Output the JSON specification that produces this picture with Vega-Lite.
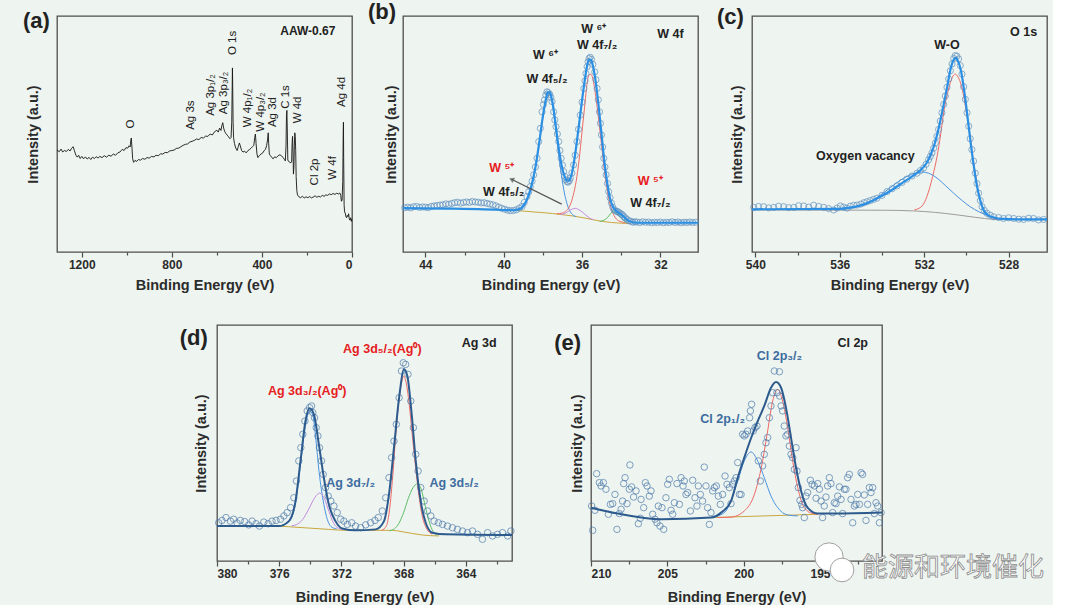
{
"$schema": "https://vega.github.io/schema/vega-lite/v6.json",
"background": "#eef4ef",
"padding": {"left": 22, "top": 0, "right": 0, "bottom": 0},
"config": {
  "font": "Liberation Sans",
  "view": {"stroke": "#4d4d4d", "strokeWidth": 1.3},
  "axis": {"grid": false, "domain": false, "labelFont": "Liberation Sans", "titleFont": "Liberation Sans", "labelFontWeight": "bold", "titleFontWeight": "bold", "labelColor": "#2b2b2b", "titleColor": "#2b2b2b", "labelFontSize": 12, "titleFontSize": 14.5, "tickColor": "#4d4d4d", "tickWidth": 1.2},
  "axisX": {"labelPadding": 2, "titlePadding": 8},
  "axisY": {"ticks": false, "labels": false},
  "text": {"font": "Liberation Sans"}
},
"datasets": {
"P": [{"p":"a","x":1401.5,"y":97.7,"t":"(a)"},{"p":"b","x":46.21,"y":101.7,"t":"(b)"},{"p":"c","x":541.18,"y":99.6,"t":"(c)"},{"p":"d","x":381.5,"y":94.6,"t":"(d)"},{"p":"e","x":211.53,"y":92.5,"t":"(e)"}],
"a": [{"x":1310,"y":43.2},{"x":1300,"y":42.5},{"x":1292,"y":43.6},{"x":1285,"y":42.4},{"x":1276,"y":43.0},{"x":1268,"y":42.6},{"x":1260,"y":43.5},{"x":1252,"y":42.8},{"x":1245,"y":44.0},{"x":1238,"y":44.6},{"x":1233,"y":43.0},{"x":1226,"y":41.0},{"x":1220,"y":40.2},{"x":1214,"y":41.0},{"x":1207,"y":39.6},{"x":1200,"y":40.5},{"x":1192,"y":39.5},{"x":1184,"y":40.3},{"x":1176,"y":39.4},{"x":1168,"y":40.1},{"x":1160,"y":39.2},{"x":1152,"y":40.2},{"x":1144,"y":39.6},{"x":1136,"y":40.4},{"x":1128,"y":39.8},{"x":1120,"y":40.5},{"x":1110,"y":40.0},{"x":1100,"y":40.8},{"x":1090,"y":40.2},{"x":1080,"y":41.0},{"x":1070,"y":40.6},{"x":1060,"y":41.5},{"x":1050,"y":41.0},{"x":1040,"y":42.0},{"x":1030,"y":42.4},{"x":1020,"y":43.5},{"x":1012,"y":43.0},{"x":1004,"y":44.2},{"x":996,"y":44.0},{"x":990,"y":45.0},{"x":985,"y":44.5},{"x":982,"y":47.5},{"x":980,"y":48.3},{"x":977,"y":44.0},{"x":974,"y":39.5},{"x":970,"y":38.0},{"x":964,"y":38.8},{"x":956,"y":38.4},{"x":948,"y":39.2},{"x":940,"y":38.9},{"x":930,"y":39.6},{"x":920,"y":39.3},{"x":910,"y":40.0},{"x":900,"y":39.8},{"x":890,"y":40.5},{"x":880,"y":40.3},{"x":870,"y":41.0},{"x":860,"y":40.8},{"x":850,"y":41.6},{"x":840,"y":41.5},{"x":830,"y":42.2},{"x":820,"y":42.1},{"x":810,"y":42.8},{"x":800,"y":43.0},{"x":790,"y":43.2},{"x":780,"y":43.9},{"x":770,"y":44.0},{"x":760,"y":44.6},{"x":750,"y":45.2},{"x":740,"y":45.6},{"x":730,"y":45.8},{"x":720,"y":46.6},{"x":710,"y":46.9},{"x":700,"y":47.3},{"x":690,"y":47.9},{"x":680,"y":47.6},{"x":670,"y":48.5},{"x":660,"y":48.3},{"x":650,"y":49.1},{"x":640,"y":49.0},{"x":630,"y":50.0},{"x":620,"y":49.6},{"x":610,"y":51.0},{"x":600,"y":51.6},{"x":594,"y":50.8},{"x":588,"y":52.5},{"x":582,"y":51.5},{"x":578,"y":53.5},{"x":574,"y":54.8},{"x":570,"y":52.5},{"x":565,"y":51.0},{"x":560,"y":50.2},{"x":554,"y":49.5},{"x":548,"y":48.8},{"x":542,"y":48.0},{"x":537,"y":48.5},{"x":534,"y":55.0},{"x":532,"y":70.0},{"x":531,"y":78.0},{"x":530,"y":72.0},{"x":528,"y":55.0},{"x":526,"y":48.5},{"x":522,"y":46.0},{"x":516,"y":44.0},{"x":510,"y":43.0},{"x":505,"y":44.6},{"x":500,"y":46.2},{"x":496,"y":45.0},{"x":490,"y":43.0},{"x":484,"y":42.3},{"x":478,"y":42.8},{"x":470,"y":42.0},{"x":462,"y":43.0},{"x":455,"y":43.4},{"x":448,"y":44.0},{"x":442,"y":44.6},{"x":436,"y":45.2},{"x":432,"y":48.5},{"x":429,"y":50.0},{"x":426,"y":46.0},{"x":422,"y":41.5},{"x":418,"y":40.0},{"x":412,"y":40.8},{"x":404,"y":41.5},{"x":396,"y":42.0},{"x":390,"y":43.0},{"x":384,"y":43.5},{"x":379,"y":45.2},{"x":375,"y":47.5},{"x":372,"y":50.5},{"x":370,"y":46.0},{"x":367,"y":41.5},{"x":362,"y":40.8},{"x":356,"y":40.0},{"x":350,"y":39.5},{"x":344,"y":40.3},{"x":336,"y":40.0},{"x":328,"y":40.8},{"x":320,"y":41.2},{"x":312,"y":40.6},{"x":305,"y":40.0},{"x":300,"y":39.2},{"x":296,"y":38.6},{"x":293,"y":45.0},{"x":291,"y":58.0},{"x":289,"y":60.0},{"x":287,"y":50.0},{"x":285,"y":39.0},{"x":281,"y":38.3},{"x":276,"y":38.0},{"x":271,"y":37.8},{"x":268,"y":38.5},{"x":266,"y":46.0},{"x":264,"y":49.0},{"x":262,"y":42.0},{"x":260,"y":33.0},{"x":258,"y":36.0},{"x":256,"y":45.0},{"x":254,"y":50.5},{"x":252,"y":49.0},{"x":250,"y":43.0},{"x":248,"y":32.0},{"x":245,"y":26.0},{"x":242,"y":24.2},{"x":236,"y":23.4},{"x":228,"y":23.0},{"x":220,"y":23.6},{"x":212,"y":22.9},{"x":204,"y":23.4},{"x":196,"y":23.0},{"x":188,"y":23.5},{"x":180,"y":22.9},{"x":172,"y":23.3},{"x":164,"y":23.8},{"x":156,"y":23.2},{"x":148,"y":23.6},{"x":140,"y":23.3},{"x":132,"y":24.0},{"x":124,"y":23.6},{"x":116,"y":24.2},{"x":108,"y":24.0},{"x":100,"y":24.6},{"x":92,"y":24.3},{"x":84,"y":24.8},{"x":76,"y":24.4},{"x":68,"y":24.9},{"x":60,"y":24.6},{"x":54,"y":25.0},{"x":50,"y":24.0},{"x":47,"y":21.5},{"x":44,"y":22.0},{"x":41,"y":30.0},{"x":39,"y":50.0},{"x":38,"y":55.0},{"x":37,"y":40.0},{"x":35,"y":20.0},{"x":33,"y":17.0},{"x":30,"y":16.5},{"x":27,"y":15.0},{"x":24,"y":14.5},{"x":21,"y":15.5},{"x":18,"y":15.0},{"x":15,"y":16.2},{"x":12,"y":14.0},{"x":9,"y":13.5},{"x":6,"y":14.5},{"x":3,"y":13.0},{"x":1,"y":14.0}],
"aL": [{"x":982,"y":54.2,"t":"O"},{"x":716,"y":58.0,"t":"Ag 3s"},{"x":627,"y":66.5,"t":"Ag 3p₁/₂"},{"x":569,"y":67.4,"t":"Ag 3p₃/₂"},{"x":529,"y":88.6,"t":"O 1s"},{"x":462,"y":61.0,"t":"W 4p₁/₂"},{"x":404,"y":59.3,"t":"W 4p₃/₂"},{"x":351,"y":59.3,"t":"Ag 3d"},{"x":293,"y":65.7,"t":"C 1s"},{"x":240,"y":60.2,"t":"W 4d"},{"x":164,"y":33.9,"t":"Cl 2p"},{"x":84,"y":35.6,"t":"W 4f"},{"x":44,"y":67.8,"t":"Ag 4d"}],
"aT": [{"x":196,"y":93.6,"t":"AAW-0.67"}],
"bP": [{"x":45.05,"y":18.8},{"x":44.9,"y":19.0},{"x":44.75,"y":18.7},{"x":44.6,"y":19.2},{"x":44.45,"y":19.3},{"x":44.3,"y":18.9},{"x":44.15,"y":19.1},{"x":44.0,"y":19.0},{"x":43.85,"y":18.8},{"x":43.7,"y":19.3},{"x":43.55,"y":19.5},{"x":43.4,"y":19.7},{"x":43.25,"y":19.9},{"x":43.1,"y":20.0},{"x":42.95,"y":20.4},{"x":42.8,"y":20.2},{"x":42.65,"y":20.6},{"x":42.5,"y":20.9},{"x":42.35,"y":21.1},{"x":42.2,"y":20.7},{"x":42.05,"y":21.0},{"x":41.9,"y":21.2},{"x":41.75,"y":21.0},{"x":41.6,"y":21.4},{"x":41.45,"y":21.2},{"x":41.3,"y":21.1},{"x":41.15,"y":20.8},{"x":41.0,"y":20.9},{"x":40.85,"y":20.6},{"x":40.7,"y":20.3},{"x":40.55,"y":20.0},{"x":40.4,"y":19.6},{"x":40.25,"y":19.0},{"x":40.1,"y":18.5},{"x":39.95,"y":18.1},{"x":39.8,"y":17.7},{"x":39.65,"y":17.5},{"x":39.5,"y":17.6},{"x":39.35,"y":17.9},{"x":39.2,"y":18.6},{"x":39.06,"y":19.3},{"x":38.95,"y":21.0},{"x":38.81,"y":23.5},{"x":38.72,"y":25.5},{"x":38.64,"y":27.7},{"x":38.55,"y":30.0},{"x":38.47,"y":32.7},{"x":38.38,"y":36.0},{"x":38.3,"y":39.7},{"x":38.21,"y":46.8},{"x":38.13,"y":52.4},{"x":38.04,"y":59.4},{"x":37.97,"y":62.5},{"x":37.92,"y":64.4},{"x":37.85,"y":66.5},{"x":37.79,"y":67.9},{"x":37.72,"y":67.5},{"x":37.65,"y":66.8},{"x":37.59,"y":65.5},{"x":37.53,"y":63.7},{"x":37.45,"y":59.4},{"x":37.39,"y":56.0},{"x":37.33,"y":53.1},{"x":37.26,"y":50.0},{"x":37.19,"y":46.8},{"x":37.13,"y":43.0},{"x":37.07,"y":39.7},{"x":37.0,"y":36.8},{"x":36.94,"y":34.1},{"x":36.88,"y":32.0},{"x":36.82,"y":30.6},{"x":36.76,"y":29.8},{"x":36.71,"y":29.6},{"x":36.65,"y":30.2},{"x":36.6,"y":31.3},{"x":36.52,"y":33.5},{"x":36.43,"y":36.9},{"x":36.35,"y":41.0},{"x":36.26,"y":46.8},{"x":36.18,"y":52.0},{"x":36.09,"y":58.0},{"x":36.0,"y":63.5},{"x":35.91,"y":69.3},{"x":35.85,"y":72.5},{"x":35.8,"y":75.6},{"x":35.74,"y":78.5},{"x":35.69,"y":80.6},{"x":35.64,"y":82.0},{"x":35.58,"y":82.5},{"x":35.52,"y":81.6},{"x":35.45,"y":79.5},{"x":35.35,"y":76.3},{"x":35.29,"y":73.0},{"x":35.23,"y":69.3},{"x":35.17,"y":64.5},{"x":35.11,"y":59.4},{"x":35.06,"y":54.5},{"x":35.01,"y":49.6},{"x":34.95,"y":44.5},{"x":34.89,"y":39.7},{"x":34.83,"y":36.0},{"x":34.77,"y":32.7},{"x":34.7,"y":29.0},{"x":34.64,"y":25.6},{"x":34.57,"y":23.0},{"x":34.5,"y":20.7},{"x":34.43,"y":19.0},{"x":34.37,"y":17.9},{"x":34.29,"y":17.4},{"x":34.21,"y":17.2},{"x":34.14,"y":16.9},{"x":34.08,"y":16.5},{"x":34.0,"y":16.1},{"x":33.94,"y":15.8},{"x":33.86,"y":15.0},{"x":33.79,"y":14.4},{"x":33.7,"y":13.8},{"x":33.6,"y":13.2},{"x":33.5,"y":13.0},{"x":33.4,"y":12.6},{"x":33.3,"y":12.8},{"x":33.2,"y":12.7},{"x":33.05,"y":12.5},{"x":32.9,"y":12.8},{"x":32.75,"y":12.6},{"x":32.6,"y":12.7},{"x":32.45,"y":12.4},{"x":32.3,"y":12.6},{"x":32.15,"y":12.5},{"x":32.0,"y":12.7},{"x":31.85,"y":12.4},{"x":31.7,"y":12.6},{"x":31.55,"y":12.5},{"x":31.4,"y":12.8},{"x":31.25,"y":12.5},{"x":31.1,"y":12.7},{"x":30.95,"y":12.4},{"x":30.8,"y":12.6},{"x":30.65,"y":12.5},{"x":30.5,"y":12.7},{"x":30.35,"y":12.5},{"x":30.2,"y":12.6}],
"bF": [{"x":45.14,"y":18.6},{"x":43.0,"y":18.4},{"x":41.0,"y":18.1},{"x":40.0,"y":17.8},{"x":39.5,"y":17.7},{"x":39.2,"y":18.2},{"x":39.0,"y":19.5},{"x":38.8,"y":22.5},{"x":38.6,"y":27.5},{"x":38.4,"y":35.0},{"x":38.2,"y":45.5},{"x":38.0,"y":57.5},{"x":37.85,"y":64.5},{"x":37.75,"y":67.8},{"x":37.65,"y":67.6},{"x":37.5,"y":63.0},{"x":37.35,"y":54.0},{"x":37.2,"y":44.5},{"x":37.05,"y":37.0},{"x":36.9,"y":32.3},{"x":36.75,"y":30.2},{"x":36.65,"y":30.5},{"x":36.5,"y":34.0},{"x":36.35,"y":41.5},{"x":36.2,"y":51.0},{"x":36.05,"y":61.0},{"x":35.9,"y":70.5},{"x":35.75,"y":78.5},{"x":35.65,"y":81.5},{"x":35.55,"y":81.5},{"x":35.45,"y":79.0},{"x":35.3,"y":72.0},{"x":35.15,"y":61.5},{"x":35.0,"y":49.5},{"x":34.85,"y":37.5},{"x":34.7,"y":28.5},{"x":34.55,"y":22.0},{"x":34.4,"y":18.8},{"x":34.25,"y":17.4},{"x":34.1,"y":16.5},{"x":33.9,"y":15.2},{"x":33.7,"y":13.6},{"x":33.5,"y":12.8},{"x":33.2,"y":12.4},{"x":32.0,"y":12.4},{"x":30.08,"y":12.4}],
"bC": [{"s":"bg","x":39.4,"y":17.6},{"s":"bg","x":38.5,"y":17.0},{"s":"bg","x":37.5,"y":16.3},{"s":"bg","x":37.0,"y":15.8},{"s":"bg","x":36.5,"y":15.3},{"s":"bg","x":36.0,"y":14.6},{"s":"bg","x":35.5,"y":13.8},{"s":"bg","x":35.0,"y":13.0},{"s":"bg","x":34.5,"y":12.5},{"s":"bg","x":34.0,"y":12.2},{"s":"bg","x":33.5,"y":12.1},
{"s":"blue","x":39.4,"y":17.6},{"s":"blue","x":39.0,"y":19.0},{"s":"blue","x":38.8,"y":22.0},{"s":"blue","x":38.6,"y":27.0},{"s":"blue","x":38.4,"y":34.5},{"s":"blue","x":38.2,"y":45.0},{"s":"blue","x":38.0,"y":57.0},{"s":"blue","x":37.85,"y":64.0},{"s":"blue","x":37.75,"y":67.2},{"s":"blue","x":37.65,"y":67.0},{"s":"blue","x":37.5,"y":62.0},{"s":"blue","x":37.35,"y":52.5},{"s":"blue","x":37.2,"y":42.0},{"s":"blue","x":37.05,"y":32.5},{"s":"blue","x":36.9,"y":25.0},{"s":"blue","x":36.75,"y":20.0},{"s":"blue","x":36.6,"y":17.0},{"s":"blue","x":36.45,"y":15.6},{"s":"blue","x":36.3,"y":15.0},
{"s":"red","x":37.3,"y":16.2},{"s":"red","x":37.0,"y":16.5},{"s":"red","x":36.8,"y":17.5},{"s":"red","x":36.6,"y":20.0},{"s":"red","x":36.45,"y":24.0},{"s":"red","x":36.3,"y":30.0},{"s":"red","x":36.15,"y":39.0},{"s":"red","x":36.0,"y":51.0},{"s":"red","x":35.85,"y":63.0},{"s":"red","x":35.75,"y":71.0},{"s":"red","x":35.65,"y":75.0},{"s":"red","x":35.55,"y":75.3},{"s":"red","x":35.45,"y":73.5},{"s":"red","x":35.3,"y":66.0},{"s":"red","x":35.15,"y":56.0},{"s":"red","x":35.0,"y":45.0},{"s":"red","x":34.85,"y":34.0},{"s":"red","x":34.7,"y":25.5},{"s":"red","x":34.55,"y":19.5},{"s":"red","x":34.4,"y":16.0},{"s":"red","x":34.25,"y":14.0},{"s":"red","x":34.0,"y":12.8},{"s":"red","x":33.8,"y":12.3},
{"s":"purple","x":37.1,"y":15.9},{"s":"purple","x":36.9,"y":16.3},{"s":"purple","x":36.7,"y":17.2},{"s":"purple","x":36.5,"y":18.2},{"s":"purple","x":36.35,"y":18.5},{"s":"purple","x":36.2,"y":18.1},{"s":"purple","x":36.0,"y":17.0},{"s":"purple","x":35.8,"y":15.6},{"s":"purple","x":35.6,"y":14.3},{"s":"purple","x":35.4,"y":13.6},
{"s":"green","x":35.1,"y":13.0},{"s":"green","x":34.9,"y":13.4},{"s":"green","x":34.7,"y":14.6},{"s":"green","x":34.55,"y":16.2},{"s":"green","x":34.4,"y":17.3},{"s":"green","x":34.25,"y":16.8},{"s":"green","x":34.1,"y":15.2},{"s":"green","x":33.9,"y":13.4},{"s":"green","x":33.7,"y":12.5}],
"bT": [{"x":37.87,"y":83.4,"t":"W ⁶⁺","k":"black"},{"x":37.79,"y":73.5,"t":"W 4f₅/₂","k":"black"},{"x":35.4,"y":94.6,"t":"W ⁶⁺","k":"black"},{"x":35.23,"y":87.6,"t":"W 4f₇/₂","k":"black"},{"x":31.49,"y":92.3,"t":"W 4f","k":"black"},{"x":40.09,"y":35.5,"t":"W ⁵⁺","k":"lred"},{"x":40.0,"y":25.6,"t":"W 4f₅/₂","k":"black"},{"x":32.51,"y":29.9,"t":"W ⁵⁺","k":"lred"},{"x":32.51,"y":20.7,"t":"W 4f₇/₂","k":"black"}],
"bA": [{"x":37.04,"y":20.3,"x2":39.6,"y2":30.8}],
"bH": [{"x":39.6,"y":30.8}],
"cP": [{"x":540.08,"y":18.9},{"x":539.85,"y":19.3},{"x":539.61,"y":19.2},{"x":539.37,"y":18.7},{"x":539.13,"y":18.9},{"x":538.9,"y":19.4},{"x":538.66,"y":19.2},{"x":538.42,"y":18.8},{"x":538.18,"y":18.9},{"x":537.95,"y":19.6},{"x":537.71,"y":19.5},{"x":537.47,"y":19.0},{"x":537.24,"y":19.8},{"x":537.0,"y":19.3},{"x":536.76,"y":18.9},{"x":536.53,"y":18.4},{"x":536.29,"y":17.8},{"x":536.13,"y":18.6},{"x":535.97,"y":19.5},{"x":535.82,"y":19.0},{"x":535.66,"y":18.6},{"x":535.5,"y":19.4},{"x":535.34,"y":19.8},{"x":535.18,"y":19.9},{"x":535.0,"y":20.3},{"x":534.85,"y":20.9},{"x":534.71,"y":21.3},{"x":534.55,"y":21.8},{"x":534.4,"y":22.3},{"x":534.24,"y":22.8},{"x":534.0,"y":24.0},{"x":533.76,"y":25.6},{"x":533.52,"y":26.8},{"x":533.29,"y":28.0},{"x":533.05,"y":29.5},{"x":532.82,"y":30.9},{"x":532.58,"y":32.2},{"x":532.34,"y":33.4},{"x":532.18,"y":34.5},{"x":532.03,"y":35.6},{"x":531.91,"y":37.2},{"x":531.79,"y":39.1},{"x":531.71,"y":40.5},{"x":531.63,"y":42.0},{"x":531.55,"y":44.0},{"x":531.47,"y":46.2},{"x":531.4,"y":49.0},{"x":531.32,"y":51.9},{"x":531.24,"y":55.5},{"x":531.16,"y":59.0},{"x":531.08,"y":62.5},{"x":531.0,"y":66.1},{"x":530.92,"y":69.8},{"x":530.84,"y":73.3},{"x":530.76,"y":76.8},{"x":530.68,"y":79.7},{"x":530.6,"y":82.0},{"x":530.53,"y":83.2},{"x":530.45,"y":83.0},{"x":530.37,"y":81.8},{"x":530.29,"y":79.0},{"x":530.21,"y":75.4},{"x":530.13,"y":70.0},{"x":530.05,"y":64.7},{"x":529.97,"y":59.0},{"x":529.89,"y":53.3},{"x":529.82,"y":48.0},{"x":529.74,"y":43.4},{"x":529.66,"y":38.5},{"x":529.58,"y":33.4},{"x":529.5,"y":29.0},{"x":529.42,"y":24.9},{"x":529.34,"y":21.8},{"x":529.26,"y":19.2},{"x":529.15,"y":17.6},{"x":529.03,"y":16.4},{"x":528.87,"y":15.6},{"x":528.71,"y":14.9},{"x":528.47,"y":14.6},{"x":528.24,"y":14.2},{"x":528.0,"y":14.5},{"x":527.76,"y":14.2},{"x":527.52,"y":13.9},{"x":527.29,"y":13.8},{"x":527.05,"y":14.3},{"x":526.82,"y":14.2},{"x":526.58,"y":13.6},{"x":526.34,"y":13.8}],
"cF": [{"x":540.16,"y":18.1},{"x":536.0,"y":18.3},{"x":535.5,"y":18.8},{"x":535.0,"y":19.8},{"x":534.5,"y":21.5},{"x":534.0,"y":23.8},{"x":533.5,"y":26.5},{"x":533.0,"y":29.5},{"x":532.5,"y":32.5},{"x":532.2,"y":34.5},{"x":531.9,"y":37.5},{"x":531.7,"y":41.0},{"x":531.5,"y":46.0},{"x":531.3,"y":53.0},{"x":531.1,"y":61.5},{"x":530.9,"y":70.5},{"x":530.75,"y":77.5},{"x":530.6,"y":81.5},{"x":530.5,"y":82.3},{"x":530.4,"y":81.0},{"x":530.25,"y":76.5},{"x":530.1,"y":68.0},{"x":529.95,"y":57.5},{"x":529.8,"y":46.5},{"x":529.65,"y":36.5},{"x":529.5,"y":28.0},{"x":529.35,"y":22.0},{"x":529.2,"y":18.0},{"x":529.0,"y":15.8},{"x":528.7,"y":14.6},{"x":528.3,"y":14.0},{"x":527.5,"y":13.8},{"x":526.18,"y":13.8}],
"cC": [{"s":"gray","x":540.16,"y":17.8},{"s":"gray","x":534.0,"y":17.7},{"s":"gray","x":532.5,"y":17.4},{"s":"gray","x":531.5,"y":16.8},{"s":"gray","x":530.5,"y":15.8},{"s":"gray","x":529.5,"y":14.6},{"s":"gray","x":528.8,"y":13.9},{"s":"gray","x":528.3,"y":13.7},{"s":"gray","x":526.18,"y":13.7},
{"s":"red","x":532.47,"y":17.8},{"s":"red","x":532.1,"y":19.5},{"s":"red","x":531.87,"y":23.5},{"s":"red","x":531.6,"y":32.0},{"s":"red","x":531.39,"y":40.5},{"s":"red","x":531.2,"y":51.0},{"s":"red","x":531.08,"y":59.0},{"s":"red","x":530.9,"y":67.0},{"s":"red","x":530.76,"y":71.8},{"s":"red","x":530.6,"y":75.0},{"s":"red","x":530.53,"y":75.4},{"s":"red","x":530.4,"y":74.2},{"s":"red","x":530.29,"y":72.0},{"s":"red","x":530.15,"y":67.0},{"s":"red","x":530.05,"y":62.0},{"s":"red","x":529.9,"y":53.5},{"s":"red","x":529.82,"y":48.5},{"s":"red","x":529.7,"y":40.5},{"s":"red","x":529.58,"y":33.5},{"s":"red","x":529.45,"y":26.5},{"s":"red","x":529.34,"y":22.0},{"s":"red","x":529.2,"y":18.0},{"s":"red","x":529.03,"y":15.8},{"s":"red","x":528.8,"y":14.6},{"s":"red","x":528.55,"y":14.0},
{"s":"blue","x":535.82,"y":18.5},{"s":"blue","x":535.0,"y":19.5},{"s":"blue","x":534.55,"y":21.3},{"s":"blue","x":534.0,"y":24.6},{"s":"blue","x":533.6,"y":27.3},{"s":"blue","x":533.2,"y":30.0},{"s":"blue","x":532.82,"y":32.0},{"s":"blue","x":532.4,"y":33.5},{"s":"blue","x":532.1,"y":33.9},{"s":"blue","x":531.8,"y":33.4},{"s":"blue","x":531.39,"y":31.3},{"s":"blue","x":531.0,"y":28.2},{"s":"blue","x":530.6,"y":24.9},{"s":"blue","x":530.2,"y":21.8},{"s":"blue","x":529.82,"y":19.2},{"s":"blue","x":529.4,"y":17.0},{"s":"blue","x":529.03,"y":15.6},{"s":"blue","x":528.7,"y":14.6},{"s":"blue","x":528.4,"y":14.2}],
"cT": [{"x":530.92,"y":87.9,"t":"W-O","k":"black"},{"x":534.79,"y":40.8,"t":"Oxygen vacancy","k":"black"},{"x":527.29,"y":93.2,"t":"O 1s","k":"black"}],
"dP": [{"x":379.89,"y":16.2},{"x":379.68,"y":17.2},{"x":379.42,"y":18.4},{"x":379.14,"y":16.9},{"x":378.93,"y":17.7},{"x":378.71,"y":16.1},{"x":378.5,"y":17.2},{"x":378.22,"y":16.7},{"x":377.96,"y":15.3},{"x":377.74,"y":16.9},{"x":377.49,"y":15.8},{"x":377.27,"y":14.8},{"x":376.99,"y":16.5},{"x":376.71,"y":15.8},{"x":376.46,"y":16.9},{"x":376.2,"y":17.2},{"x":375.92,"y":17.7},{"x":375.7,"y":19.1},{"x":375.49,"y":20.5},{"x":375.27,"y":22.6},{"x":375.06,"y":26.8},{"x":374.89,"y":33.9},{"x":374.74,"y":42.4},{"x":374.61,"y":48.0},{"x":374.48,"y":53.7},{"x":374.35,"y":59.3},{"x":374.2,"y":63.6},{"x":374.05,"y":65.0},{"x":373.92,"y":65.7},{"x":373.84,"y":62.9},{"x":373.73,"y":60.7},{"x":373.62,"y":56.5},{"x":373.51,"y":53.0},{"x":373.41,"y":48.0},{"x":373.28,"y":42.4},{"x":373.17,"y":36.7},{"x":373.02,"y":31.1},{"x":372.85,"y":27.5},{"x":372.68,"y":25.4},{"x":372.48,"y":23.3},{"x":372.27,"y":20.5},{"x":372.05,"y":17.7},{"x":371.84,"y":16.9},{"x":371.62,"y":15.5},{"x":371.34,"y":16.2},{"x":371.09,"y":14.8},{"x":370.76,"y":14.1},{"x":370.44,"y":15.3},{"x":370.12,"y":16.2},{"x":369.84,"y":17.2},{"x":369.63,"y":18.4},{"x":369.37,"y":21.2},{"x":369.15,"y":26.8},{"x":368.94,"y":35.3},{"x":368.77,"y":43.8},{"x":368.62,"y":50.8},{"x":368.47,"y":57.9},{"x":368.29,"y":69.2},{"x":368.14,"y":80.5},{"x":368.02,"y":84.0},{"x":367.87,"y":83.3},{"x":367.72,"y":79.1},{"x":367.54,"y":67.8},{"x":367.37,"y":56.5},{"x":367.22,"y":45.2},{"x":367.07,"y":38.1},{"x":366.9,"y":31.1},{"x":366.68,"y":25.4},{"x":366.47,"y":21.2},{"x":366.25,"y":19.1},{"x":366.04,"y":16.9},{"x":365.76,"y":16.2},{"x":365.5,"y":15.5},{"x":365.18,"y":14.8},{"x":364.86,"y":14.1},{"x":364.54,"y":13.4},{"x":364.21,"y":12.7},{"x":363.89,"y":12.0},{"x":363.57,"y":12.7},{"x":363.25,"y":11.3},{"x":362.93,"y":9.2},{"x":362.6,"y":12.0},{"x":362.28,"y":10.6},{"x":361.96,"y":11.3},{"x":361.64,"y":12.0},{"x":361.31,"y":10.6},{"x":361.1,"y":12.7}],
"dF": [{"x":380.0,"y":14.8},{"x":376.03,"y":14.8},{"x":375.38,"y":16.9},{"x":374.95,"y":25.4},{"x":374.63,"y":42.4},{"x":374.31,"y":59.3},{"x":374.05,"y":64.7},{"x":373.77,"y":62.1},{"x":373.45,"y":49.4},{"x":373.13,"y":35.3},{"x":372.81,"y":24.0},{"x":372.38,"y":16.9},{"x":371.95,"y":13.8},{"x":371.09,"y":13.0},{"x":369.8,"y":13.4},{"x":369.26,"y":16.9},{"x":368.94,"y":28.2},{"x":368.62,"y":48.0},{"x":368.29,"y":69.2},{"x":367.97,"y":81.2},{"x":367.76,"y":78.4},{"x":367.48,"y":62.1},{"x":367.22,"y":42.4},{"x":366.9,"y":25.4},{"x":366.58,"y":16.2},{"x":366.15,"y":12.0},{"x":365.29,"y":11.3},{"x":361.03,"y":11.0}],
"dC": [{"s":"bg","x":376.03,"y":14.8},{"s":"bg","x":372.81,"y":13.4},{"s":"bg","x":371.73,"y":13.0},{"s":"bg","x":368.72,"y":13.0},{"s":"bg","x":368.08,"y":12.4},{"s":"bg","x":366.79,"y":11.0},{"s":"bg","x":365.72,"y":10.6},
{"s":"blue","x":376.0,"y":14.8},{"s":"blue","x":375.4,"y":16.5},{"s":"blue","x":374.95,"y":24.5},{"s":"blue","x":374.63,"y":41.0},{"s":"blue","x":374.31,"y":57.5},{"s":"blue","x":374.05,"y":63.5},{"s":"blue","x":373.85,"y":62.0},{"s":"blue","x":373.65,"y":52.0},{"s":"blue","x":373.44,"y":38.0},{"s":"blue","x":373.13,"y":24.0},{"s":"blue","x":372.9,"y":17.5},{"s":"blue","x":372.67,"y":14.6},{"s":"blue","x":372.3,"y":13.6},
{"s":"purple","x":375.2,"y":14.9},{"s":"purple","x":374.9,"y":15.4},{"s":"purple","x":374.5,"y":17.5},{"s":"purple","x":374.1,"y":22.0},{"s":"purple","x":373.7,"y":27.0},{"s":"purple","x":373.4,"y":28.8},{"s":"purple","x":373.1,"y":26.5},{"s":"purple","x":372.8,"y":21.0},{"s":"purple","x":372.5,"y":16.0},{"s":"purple","x":372.2,"y":13.9},{"s":"purple","x":371.9,"y":13.4},
{"s":"red","x":369.4,"y":13.0},{"s":"red","x":369.1,"y":15.0},{"s":"red","x":368.9,"y":22.0},{"s":"red","x":368.7,"y":36.0},{"s":"red","x":368.5,"y":54.0},{"s":"red","x":368.3,"y":68.0},{"s":"red","x":368.1,"y":76.5},{"s":"red","x":368.0,"y":78.4},{"s":"red","x":367.85,"y":76.0},{"s":"red","x":367.6,"y":64.0},{"s":"red","x":367.4,"y":50.5},{"s":"red","x":367.2,"y":38.1},{"s":"red","x":367.0,"y":27.0},{"s":"red","x":366.8,"y":19.0},{"s":"red","x":366.5,"y":13.5},{"s":"red","x":366.17,"y":11.4},
{"s":"green","x":368.9,"y":12.8},{"s":"green","x":368.6,"y":13.6},{"s":"green","x":368.3,"y":16.0},{"s":"green","x":368.0,"y":20.5},{"s":"green","x":367.7,"y":26.5},{"s":"green","x":367.4,"y":31.0},{"s":"green","x":367.1,"y":32.8},{"s":"green","x":366.85,"y":30.0},{"s":"green","x":366.6,"y":23.0},{"s":"green","x":366.35,"y":16.5},{"s":"green","x":366.1,"y":12.5},{"s":"green","x":365.85,"y":11.0}],
"dT": [{"x":369.37,"y":89.7,"t":"Ag 3d₅/₂(Ag⁰)","k":"lred"},{"x":374.2,"y":72.0,"t":"Ag 3d₃/₂(Ag⁰)","k":"lred"},{"x":371.41,"y":33.2,"t":"Ag 3d₇/₂","k":"steel"},{"x":364.75,"y":33.2,"t":"Ag 3d₅/₂","k":"steel"},{"x":363.14,"y":92.5,"t":"Ag 3d","k":"black"}],
"eP": [{"x":209.96,"y":23.3},{"x":209.89,"y":13.0},{"x":209.74,"y":21.5},{"x":209.63,"y":37.0},{"x":209.45,"y":33.2},{"x":209.34,"y":31.8},{"x":209.19,"y":33.2},{"x":209.02,"y":30.4},{"x":208.86,"y":19.8},{"x":208.73,"y":24.0},{"x":208.58,"y":24.3},{"x":208.43,"y":28.2},{"x":208.3,"y":13.4},{"x":208.14,"y":20.1},{"x":208.03,"y":21.9},{"x":207.93,"y":25.4},{"x":207.86,"y":32.8},{"x":207.77,"y":35.3},{"x":207.64,"y":24.3},{"x":207.49,"y":30.4},{"x":207.45,"y":40.7},{"x":207.34,"y":31.4},{"x":207.21,"y":27.1},{"x":207.05,"y":29.7},{"x":206.9,"y":15.8},{"x":206.77,"y":18.1},{"x":206.72,"y":26.1},{"x":206.55,"y":22.6},{"x":206.44,"y":33.2},{"x":206.33,"y":31.8},{"x":206.18,"y":27.5},{"x":206.07,"y":29.7},{"x":205.96,"y":19.8},{"x":205.81,"y":17.7},{"x":205.68,"y":16.2},{"x":205.59,"y":23.3},{"x":205.48,"y":14.8},{"x":205.35,"y":22.6},{"x":205.24,"y":13.4},{"x":205.09,"y":26.8},{"x":204.98,"y":32.5},{"x":204.87,"y":34.6},{"x":204.76,"y":21.5},{"x":204.65,"y":19.8},{"x":204.54,"y":24.7},{"x":204.37,"y":32.8},{"x":204.21,"y":24.0},{"x":204.1,"y":35.3},{"x":203.97,"y":31.8},{"x":203.89,"y":33.9},{"x":203.78,"y":28.2},{"x":203.67,"y":29.0},{"x":203.49,"y":21.2},{"x":203.34,"y":34.2},{"x":203.19,"y":26.8},{"x":203.06,"y":23.3},{"x":202.97,"y":31.8},{"x":202.84,"y":28.2},{"x":202.69,"y":25.4},{"x":202.58,"y":39.8},{"x":202.47,"y":31.8},{"x":202.36,"y":22.6},{"x":202.25,"y":15.5},{"x":202.14,"y":20.5},{"x":202.03,"y":29.7},{"x":201.92,"y":31.1},{"x":201.79,"y":31.8},{"x":201.66,"y":27.5},{"x":201.53,"y":24.0},{"x":201.38,"y":28.2},{"x":201.22,"y":36.0},{"x":201.09,"y":32.5},{"x":200.94,"y":31.1},{"x":200.83,"y":24.3},{"x":200.72,"y":32.5},{"x":200.61,"y":33.9},{"x":200.5,"y":35.3},{"x":200.39,"y":41.7},{"x":200.28,"y":28.2},{"x":200.17,"y":28.2},{"x":200.07,"y":53.7},{"x":199.96,"y":53.0},{"x":199.85,"y":53.7},{"x":199.74,"y":55.1},{"x":199.61,"y":60.7},{"x":199.56,"y":63.6},{"x":199.48,"y":66.4},{"x":199.37,"y":55.1},{"x":199.26,"y":56.5},{"x":199.13,"y":57.2},{"x":199.04,"y":42.4},{"x":198.91,"y":33.9},{"x":198.76,"y":40.3},{"x":198.65,"y":45.2},{"x":198.54,"y":50.1},{"x":198.43,"y":52.3},{"x":198.32,"y":60.7},{"x":198.21,"y":65.7},{"x":198.1,"y":71.3},{"x":197.99,"y":80.5},{"x":197.82,"y":71.3},{"x":197.66,"y":80.2},{"x":197.64,"y":69.9},{"x":197.55,"y":65.7},{"x":197.45,"y":63.6},{"x":197.34,"y":57.2},{"x":197.23,"y":53.0},{"x":197.12,"y":53.7},{"x":197.01,"y":48.7},{"x":196.9,"y":45.2},{"x":196.79,"y":43.8},{"x":196.68,"y":38.8},{"x":196.57,"y":48.0},{"x":196.51,"y":38.1},{"x":196.42,"y":31.1},{"x":196.31,"y":25.7},{"x":196.2,"y":24.0},{"x":196.14,"y":22.6},{"x":196.03,"y":18.4},{"x":195.92,"y":27.5},{"x":195.81,"y":29.0},{"x":195.63,"y":34.2},{"x":195.52,"y":32.5},{"x":195.37,"y":31.8},{"x":195.26,"y":26.6},{"x":195.15,"y":32.8},{"x":195.04,"y":30.4},{"x":194.93,"y":25.4},{"x":194.83,"y":18.4},{"x":194.72,"y":23.3},{"x":194.61,"y":27.1},{"x":194.5,"y":31.8},{"x":194.39,"y":35.3},{"x":194.28,"y":32.8},{"x":194.17,"y":20.5},{"x":194.06,"y":24.7},{"x":193.95,"y":24.3},{"x":193.84,"y":27.5},{"x":193.73,"y":31.4},{"x":193.62,"y":26.1},{"x":193.52,"y":20.1},{"x":193.41,"y":30.4},{"x":193.3,"y":30.4},{"x":193.19,"y":35.3},{"x":193.08,"y":36.7},{"x":192.97,"y":26.1},{"x":192.86,"y":16.2},{"x":192.75,"y":23.3},{"x":192.64,"y":24.0},{"x":192.53,"y":28.2},{"x":192.42,"y":24.0},{"x":192.31,"y":37.4},{"x":192.21,"y":36.7},{"x":192.1,"y":28.0},{"x":191.99,"y":17.2},{"x":191.88,"y":24.0},{"x":191.77,"y":31.1},{"x":191.66,"y":29.0},{"x":191.55,"y":31.1},{"x":191.44,"y":20.1},{"x":191.33,"y":24.7},{"x":191.22,"y":23.3},{"x":191.11,"y":16.2},{"x":191.0,"y":20.5}],
"eF": [{"x":210.0,"y":22.6},{"x":208.25,"y":20.1},{"x":205.41,"y":17.7},{"x":202.14,"y":18.4},{"x":201.48,"y":20.5},{"x":200.83,"y":25.4},{"x":200.39,"y":35.3},{"x":199.96,"y":43.8},{"x":199.52,"y":52.0},{"x":199.08,"y":59.3},{"x":198.65,"y":65.7},{"x":198.21,"y":73.4},{"x":197.88,"y":75.8},{"x":197.55,"y":73.4},{"x":197.23,"y":65.0},{"x":196.9,"y":52.3},{"x":196.57,"y":39.5},{"x":196.24,"y":29.7},{"x":195.81,"y":22.6},{"x":195.15,"y":20.1},{"x":194.06,"y":20.1},{"x":190.94,"y":20.5}],
"eC": [{"s":"bg","x":202.14,"y":18.4},{"s":"bg","x":195.15,"y":19.8},
{"s":"blue","x":202.14,"y":18.4},{"s":"blue","x":201.26,"y":20.5},{"s":"blue","x":200.83,"y":25.4},{"s":"blue","x":200.39,"y":33.9},{"s":"blue","x":199.96,"y":42.4},{"s":"blue","x":199.52,"y":46.2},{"s":"blue","x":199.08,"y":42.4},{"s":"blue","x":198.65,"y":35.3},{"s":"blue","x":198.21,"y":27.5},{"s":"blue","x":197.77,"y":22.6},{"s":"blue","x":197.12,"y":19.5},{"s":"blue","x":196.46,"y":19.1},
{"s":"red","x":201.7,"y":18.4},{"s":"red","x":200.83,"y":18.6},{"s":"red","x":199.96,"y":21.2},{"s":"red","x":199.3,"y":28.2},{"s":"red","x":198.87,"y":38.8},{"s":"red","x":198.43,"y":55.1},{"s":"red","x":198.1,"y":67.8},{"s":"red","x":197.77,"y":72.7},{"s":"red","x":197.45,"y":67.8},{"s":"red","x":197.12,"y":56.5},{"s":"red","x":196.79,"y":42.4},{"s":"red","x":196.46,"y":31.1},{"s":"red","x":196.03,"y":22.6},{"s":"red","x":195.48,"y":20.1},{"s":"red","x":195.15,"y":19.8}],
"eT": [{"x":197.66,"y":86.9,"t":"Cl 2p₃/₂","k":"steel"},{"x":201.38,"y":60.0,"t":"Cl 2p₁/₂","k":"steel"},{"x":192.86,"y":92.5,"t":"Cl 2p","k":"black"}],
"W": [{"x":186.29,"y":-3.0,"t":"能源和环境催化"}],
"I": [{"b":"big","x":194.41,"y":1.7},{"b":"small","x":193.56,"y":-3.8}]
},
"spacing": 31,
"vconcat": [
{"hconcat": [
 {"width": 295, "height": 236,
  "encoding": {
   "x": {"field": "x", "type": "quantitative", "scale": {"domain": [0, 1310], "reverse": true, "nice": false, "zero": false}, "axis": {"title": "Binding Energy (eV)", "format": "d", "values": [1200,1000,800,600,400,200,0], "labelExpr": "datum.value % 400 == 0 ? datum.label : ''", "tickSize": {"condition": {"test": "datum.value % 400 == 0", "value": 5}, "value": 3}}},
   "y": {"field": "y", "type": "quantitative", "scale": {"domain": [0, 100], "nice": false}, "axis": {"title": "Intensity (a.u.)", "titlePadding": 17}}
  },
  "layer": [
   {"data": {"name": "a"}, "mark": {"type": "line", "color": "#151515", "strokeWidth": 0.9}},
   {"data": {"name": "aL"}, "mark": {"type": "text", "angle": 270, "fontSize": 11.5, "color": "#222222"}, "encoding": {"text": {"field": "t"}}},
   {"data": {"name": "aT"}, "mark": {"type": "text", "fontSize": 12, "fontWeight": "bold", "color": "#222222"}, "encoding": {"text": {"field": "t"}}},
   {"data": {"name": "P"}, "transform": [{"filter": "datum.p == 'a'"}], "mark": {"type": "text", "fontSize": 22, "fontWeight": "bold", "color": "#222222"}, "encoding": {"text": {"field": "t"}}}
  ]},
 {"width": 295, "height": 236,
  "encoding": {
   "x": {"field": "x", "type": "quantitative", "scale": {"domain": [30.08, 45.14], "reverse": true, "nice": false, "zero": false}, "axis": {"title": "Binding Energy (eV)", "format": "d", "values": [44,42,40,38,36,34,32], "labelExpr": "datum.value % 4 == 0 ? datum.label : ''", "tickSize": {"condition": {"test": "datum.value % 4 == 0", "value": 5}, "value": 3}}},
   "y": {"field": "y", "type": "quantitative", "scale": {"domain": [0, 100], "nice": false}, "axis": {"title": "Intensity (a.u.)", "titlePadding": 5}}
  },
  "layer": [
   {"data": {"name": "bC"}, "mark": {"type": "line", "strokeWidth": 1, "interpolate": "monotone"}, "encoding": {"color": {"field": "s", "type": "nominal", "legend": null, "scale": {"domain": ["bg","red","blue","purple","green","gray","black","lred","steel"], "range": ["#c9a73e","#ef6a66","#4b94e0","#c48ddf","#5dbd68","#9c9c9c","#222222","#e6201e","#3d6c9f"]}}, "detail": {"field": "s"}}},
   {"data": {"name": "bP"}, "mark": {"type": "point", "shape": "circle", "filled": false, "size": 38, "strokeWidth": 1, "color": "#5f8fbf"}},
   {"data": {"name": "bF"}, "mark": {"type": "line", "color": "#2b8fe3", "strokeWidth": 2.2, "interpolate": "monotone"}},
   {"data": {"name": "bA"}, "mark": {"type": "rule", "color": "#555555", "strokeWidth": 1.2}, "encoding": {"x2": {"field": "x2"}, "y2": {"field": "y2"}}},
   {"data": {"name": "bH"}, "mark": {"type": "point", "shape": "triangle-up", "filled": true, "size": 35, "angle": 297, "color": "#555555"}},
   {"data": {"name": "bT"}, "mark": {"type": "text", "fontSize": 12.5, "fontWeight": "bold"}, "encoding": {"text": {"field": "t"}, "color": {"field": "k", "type": "nominal", "legend": null, "scale": {"domain": ["bg","red","blue","purple","green","gray","black","lred","steel"], "range": ["#c9a73e","#ef6a66","#4b94e0","#c48ddf","#5dbd68","#9c9c9c","#222222","#e6201e","#3d6c9f"]}}}},
   {"data": {"name": "P"}, "transform": [{"filter": "datum.p == 'b'"}], "mark": {"type": "text", "fontSize": 22, "fontWeight": "bold", "color": "#222222"}, "encoding": {"text": {"field": "t"}}}
  ]},
 {"width": 295, "height": 236,
  "encoding": {
   "x": {"field": "x", "type": "quantitative", "scale": {"domain": [526.18, 540.16], "reverse": true, "nice": false, "zero": false}, "axis": {"title": "Binding Energy (eV)", "format": "d", "values": [540,538,536,534,532,530,528], "labelExpr": "(540 - datum.value) % 4 == 0 ? datum.label : ''", "tickSize": {"condition": {"test": "(540 - datum.value) % 4 == 0", "value": 5}, "value": 3}}},
   "y": {"field": "y", "type": "quantitative", "scale": {"domain": [0, 100], "nice": false}, "axis": {"title": "Intensity (a.u.)", "titlePadding": 8}}
  },
  "layer": [
   {"data": {"name": "cC"}, "mark": {"type": "line", "strokeWidth": 1, "interpolate": "monotone"}, "encoding": {"color": {"field": "s", "type": "nominal", "legend": null, "scale": {"domain": ["bg","red","blue","purple","green","gray","black","lred","steel"], "range": ["#c9a73e","#ef6a66","#4b94e0","#c48ddf","#5dbd68","#9c9c9c","#222222","#e6201e","#3d6c9f"]}}, "detail": {"field": "s"}}},
   {"data": {"name": "cP"}, "mark": {"type": "point", "shape": "circle", "filled": false, "size": 38, "strokeWidth": 1, "color": "#5f8fbf"}},
   {"data": {"name": "cF"}, "mark": {"type": "line", "color": "#2b8fe3", "strokeWidth": 2.2, "interpolate": "monotone"}},
   {"data": {"name": "cT"}, "mark": {"type": "text", "fontSize": 12.5, "fontWeight": "bold"}, "encoding": {"text": {"field": "t"}, "color": {"field": "k", "type": "nominal", "legend": null, "scale": {"domain": ["bg","red","blue","purple","green","gray","black","lred","steel"], "range": ["#c9a73e","#ef6a66","#4b94e0","#c48ddf","#5dbd68","#9c9c9c","#222222","#e6201e","#3d6c9f"]}}}},
   {"data": {"name": "P"}, "transform": [{"filter": "datum.p == 'c'"}], "mark": {"type": "text", "fontSize": 22, "fontWeight": "bold", "color": "#222222"}, "encoding": {"text": {"field": "t"}}}
  ]}
], "spacing": 12},
{"hconcat": [
 {"width": 85, "height": 236, "view": {"stroke": null}, "data": {"values": [{"t": ""}]}, "mark": {"type": "text"}, "encoding": {"text": {"field": "t"}}},
 {"width": 295, "height": 236,
  "encoding": {
   "x": {"field": "x", "type": "quantitative", "scale": {"domain": [361.03, 380], "reverse": true, "nice": false, "zero": false}, "axis": {"title": "Binding Energy (eV)", "titlePadding": 11, "format": "d", "values": [380,378,376,374,372,370,368,366,364,362], "labelExpr": "(380 - datum.value) % 4 == 0 ? datum.label : ''", "tickSize": {"condition": {"test": "(380 - datum.value) % 4 == 0", "value": 5}, "value": 3}}},
   "y": {"field": "y", "type": "quantitative", "scale": {"domain": [0, 100], "nice": false}, "axis": {"title": "Intensity (a.u.)", "titlePadding": 9}}
  },
  "layer": [
   {"data": {"name": "dC"}, "mark": {"type": "line", "strokeWidth": 1, "interpolate": "monotone"}, "encoding": {"color": {"field": "s", "type": "nominal", "legend": null, "scale": {"domain": ["bg","red","blue","purple","green","gray","black","lred","steel"], "range": ["#c9a73e","#ef6a66","#4b94e0","#c48ddf","#5dbd68","#9c9c9c","#222222","#e6201e","#3d6c9f"]}}, "detail": {"field": "s"}}},
   {"data": {"name": "dP"}, "mark": {"type": "point", "shape": "circle", "filled": false, "size": 42, "strokeWidth": 1, "color": "#4b79ab"}},
   {"data": {"name": "dF"}, "mark": {"type": "line", "color": "#2d5b8e", "strokeWidth": 2, "interpolate": "monotone"}},
   {"data": {"name": "dT"}, "mark": {"type": "text", "fontSize": 12.5, "fontWeight": "bold"}, "encoding": {"text": {"field": "t"}, "color": {"field": "k", "type": "nominal", "legend": null, "scale": {"domain": ["bg","red","blue","purple","green","gray","black","lred","steel"], "range": ["#c9a73e","#ef6a66","#4b94e0","#c48ddf","#5dbd68","#9c9c9c","#222222","#e6201e","#3d6c9f"]}}}},
   {"data": {"name": "P"}, "transform": [{"filter": "datum.p == 'd'"}], "mark": {"type": "text", "fontSize": 22, "fontWeight": "bold", "color": "#222222"}, "encoding": {"text": {"field": "t"}}}
  ]},
 {"width": 291, "height": 236,
  "encoding": {
   "x": {"field": "x", "type": "quantitative", "scale": {"domain": [190.94, 210], "reverse": true, "nice": false, "zero": false}, "axis": {"title": "Binding Energy (eV)", "titlePadding": 11, "format": "d", "values": [210,207.5,205,202.5,200,197.5,195,192.5], "labelExpr": "datum.value % 5 == 0 ? datum.label : ''", "tickSize": {"condition": {"test": "datum.value % 5 == 0", "value": 5}, "value": 3}}},
   "y": {"field": "y", "type": "quantitative", "scale": {"domain": [0, 100], "nice": false}, "axis": {"title": "Intensity (a.u.)", "titlePadding": 7}}
  },
  "layer": [
   {"data": {"name": "eC"}, "mark": {"type": "line", "strokeWidth": 1, "interpolate": "monotone"}, "encoding": {"color": {"field": "s", "type": "nominal", "legend": null, "scale": {"domain": ["bg","red","blue","purple","green","gray","black","lred","steel"], "range": ["#c9a73e","#ef6a66","#4b94e0","#c48ddf","#5dbd68","#9c9c9c","#222222","#e6201e","#3d6c9f"]}}, "detail": {"field": "s"}}},
   {"data": {"name": "eP"}, "mark": {"type": "point", "shape": "circle", "filled": false, "size": 42, "strokeWidth": 1, "color": "#4b79ab"}},
   {"data": {"name": "eF"}, "mark": {"type": "line", "color": "#2d5b8e", "strokeWidth": 2, "interpolate": "monotone"}},
   {"data": {"name": "eT"}, "mark": {"type": "text", "fontSize": 12.5, "fontWeight": "bold"}, "encoding": {"text": {"field": "t"}, "color": {"field": "k", "type": "nominal", "legend": null, "scale": {"domain": ["bg","red","blue","purple","green","gray","black","lred","steel"], "range": ["#c9a73e","#ef6a66","#4b94e0","#c48ddf","#5dbd68","#9c9c9c","#222222","#e6201e","#3d6c9f"]}}}},
   {"data": {"name": "P"}, "transform": [{"filter": "datum.p == 'e'"}], "mark": {"type": "text", "fontSize": 22, "fontWeight": "bold", "color": "#222222"}, "encoding": {"text": {"field": "t"}}},
   {"data": {"name": "I"}, "transform": [{"filter": "datum.b == 'big'"}], "mark": {"type": "point", "shape": "circle", "filled": true, "size": 800, "fill": "#ffffff", "stroke": "#a0a0a0", "strokeWidth": 1, "opacity": 1}},
   {"data": {"name": "I"}, "transform": [{"filter": "datum.b == 'small'"}], "mark": {"type": "point", "shape": "circle", "filled": true, "size": 560, "fill": "#ffffff", "stroke": "#a0a0a0", "strokeWidth": 1, "opacity": 1}},
   {"data": {"name": "W"}, "mark": {"type": "text", "font": "Noto Sans CJK SC", "fontSize": 26, "fill": "#ffffff", "stroke": "#8c8c8c", "strokeWidth": 0.8}, "encoding": {"text": {"field": "t"}}}
  ]}
], "spacing": 36}
]
}
